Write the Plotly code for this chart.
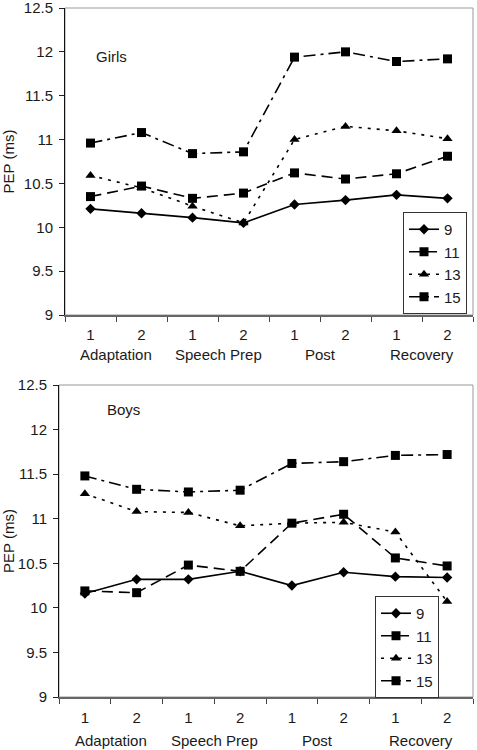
import plotly.graph_objects as go

# ---- data ----
x_pos = [1, 2, 3, 4, 5, 6, 7, 8]
tick_labels = ["1", "2", "1", "2", "1", "2", "1", "2"]
phase_labels = ["Adaptation", "Speech Prep", "Post", "Recovery"]
phase_centers = [1.5, 3.5, 5.5, 7.5]
age_groups = ["9", "11", "13", "15"]

girls_9 = [10.21, 10.16, 10.11, 10.05, 10.26, 10.31, 10.37, 10.33]
girls_11 = [10.35, 10.47, 10.33, 10.39, 10.62, 10.55, 10.61, 10.81]
girls_13 = [10.59, 10.45, 10.24, 10.05, 11.00, 11.15, 11.10, 11.01]
girls_15 = [10.96, 11.08, 10.84, 10.86, 11.94, 12.00, 11.89, 11.92]

boys_9 = [10.16, 10.32, 10.32, 10.41, 10.25, 10.40, 10.35, 10.34]
boys_11 = [10.19, 10.17, 10.48, 10.41, 10.95, 11.05, 10.56, 10.47]
boys_13 = [11.28, 11.08, 11.07, 10.92, 10.95, 10.96, 10.85, 10.07]
boys_15 = [11.48, 11.33, 11.30, 11.32, 11.62, 11.64, 11.71, 11.72]

y_ticks = [9, 9.5, 10, 10.5, 11, 11.5, 12, 12.5]

FONT = "Liberation Sans, Arial, sans-serif"
TXT = "#1a1a1a"
FS = 15

styles = {
    "9": dict(dash="solid", symbol="diamond", size=8),
    "11": dict(dash="11px,6px", symbol="square", size=9),
    "13": dict(dash="3px,6px", symbol="triangle-up", size=9),
    "15": dict(dash="12px,5px,3px,5px", symbol="square", size=9),
}

fig = go.Figure()

panels = [
    ("x", "y", "legend", [girls_9, girls_11, girls_13, girls_15]),
    ("x2", "y2", "legend2", [boys_9, boys_11, boys_13, boys_15]),
]
for xa, ya, lg, series in panels:
    for name, vals in zip(age_groups, series):
        st = styles[name]
        fig.add_trace(go.Scatter(
            x=x_pos, y=vals, name=name, xaxis=xa, yaxis=ya, legend=lg,
            mode="lines+markers",
            line=dict(color="black", width=1.6, dash=st["dash"]),
            marker=dict(symbol=st["symbol"], size=st["size"], color="black"),
        ))

W, H = 477, 750
top_dom_x = [65 / W, 473 / W]
top_dom_y = [1 - 315 / H, 1 - 8 / H]
bot_dom_x = [59 / W, 473 / W]
bot_dom_y = [1 - 697 / H, 1 - 385 / H]

def xaxis(domain, anchor, standoff):
    return dict(
        domain=domain, anchor=anchor, range=[0.5, 8.5],
        tickvals=x_pos, ticktext=tick_labels, ticks="",
        tickfont=dict(family=FONT, size=FS, color=TXT),
        ticklabelstandoff=standoff, ticklabeloverflow="allow",
        showline=True, linecolor="#666", linewidth=2,
        showgrid=False, zeroline=False, automargin=False,
        minor=dict(tickvals=[0.5 + i for i in range(9)], ticks="outside",
                   ticklen=5, tickcolor="#444", tickwidth=1, showgrid=False),
        fixedrange=True,
    )

def yaxis(domain, anchor):
    return dict(
        domain=domain, anchor=anchor, range=[9, 12.5],
        tickvals=y_ticks, ticktext=[f"{v:g}" for v in y_ticks],
        ticks="outside", ticklen=5, tickcolor="#222",
        tickfont=dict(family=FONT, size=FS, color=TXT),
        showline=True, linecolor="#111", linewidth=1,
        showgrid=False, zeroline=False, automargin=False,
        ticklabelstandoff=3, ticklabeloverflow="allow",
        title=dict(text="PEP (ms)", font=dict(family=FONT, size=FS, color=TXT), standoff=8),
        fixedrange=True,
    )

legend_common = dict(
    bgcolor="white", bordercolor="#333", borderwidth=1,
    font=dict(family=FONT, size=FS, color=TXT),
    itemwidth=30, xanchor="left", yanchor="top", tracegroupgap=0,
)

fig.update_layout(
    width=W, height=H,
    margin=dict(l=0, r=0, t=0, b=0, autoexpand=False),
    paper_bgcolor="white", plot_bgcolor="white",
    font=dict(family=FONT, size=FS, color=TXT),
    xaxis=xaxis(top_dom_x, "y", 5),
    yaxis=yaxis(top_dom_y, "x"),
    xaxis2=xaxis(bot_dom_x, "y2", 6),
    yaxis2=yaxis(bot_dom_y, "x2"),
    legend=dict(**legend_common, x=403 / W, y=1 - 212 / H),
    legend2=dict(**legend_common, x=375 / W, y=1 - 596 / H),
    showlegend=True,
)

# plot frame (top/right border)
for xr, yr in [("x domain", "y domain"), ("x2 domain", "y2 domain")]:
    fig.add_shape(type="rect", xref=xr, yref=yr, x0=0, x1=1, y0=0, y1=1,
                  line=dict(color="#999", width=1), layer="below")

# phase labels under the axes
for xr, ydom, off in [("x", top_dom_y, 40), ("x2", bot_dom_y, 43)]:
    for lab, cx in zip(phase_labels, phase_centers):
        fig.add_annotation(x=cx, xref=xr, y=ydom[0], yref="paper",
                           yshift=-off, yanchor="middle", text=lab, showarrow=False,
                           font=dict(family=FONT, size=FS, color=TXT))

# panel titles
fig.add_annotation(x=1.42, xref="x", y=11.95, yref="y", text="Girls", showarrow=False,
                   xanchor="center", yanchor="middle",
                   font=dict(family=FONT, size=FS, color=TXT))
fig.add_annotation(x=1.74, xref="x2", y=12.22, yref="y2", text="Boys", showarrow=False,
                   xanchor="center", yanchor="middle",
                   font=dict(family=FONT, size=FS, color=TXT))

fig.write_html("out.html", config={"displayModeBar": False},
               post_script="document.body.style.margin='0';document.body.style.overflow='hidden';")
